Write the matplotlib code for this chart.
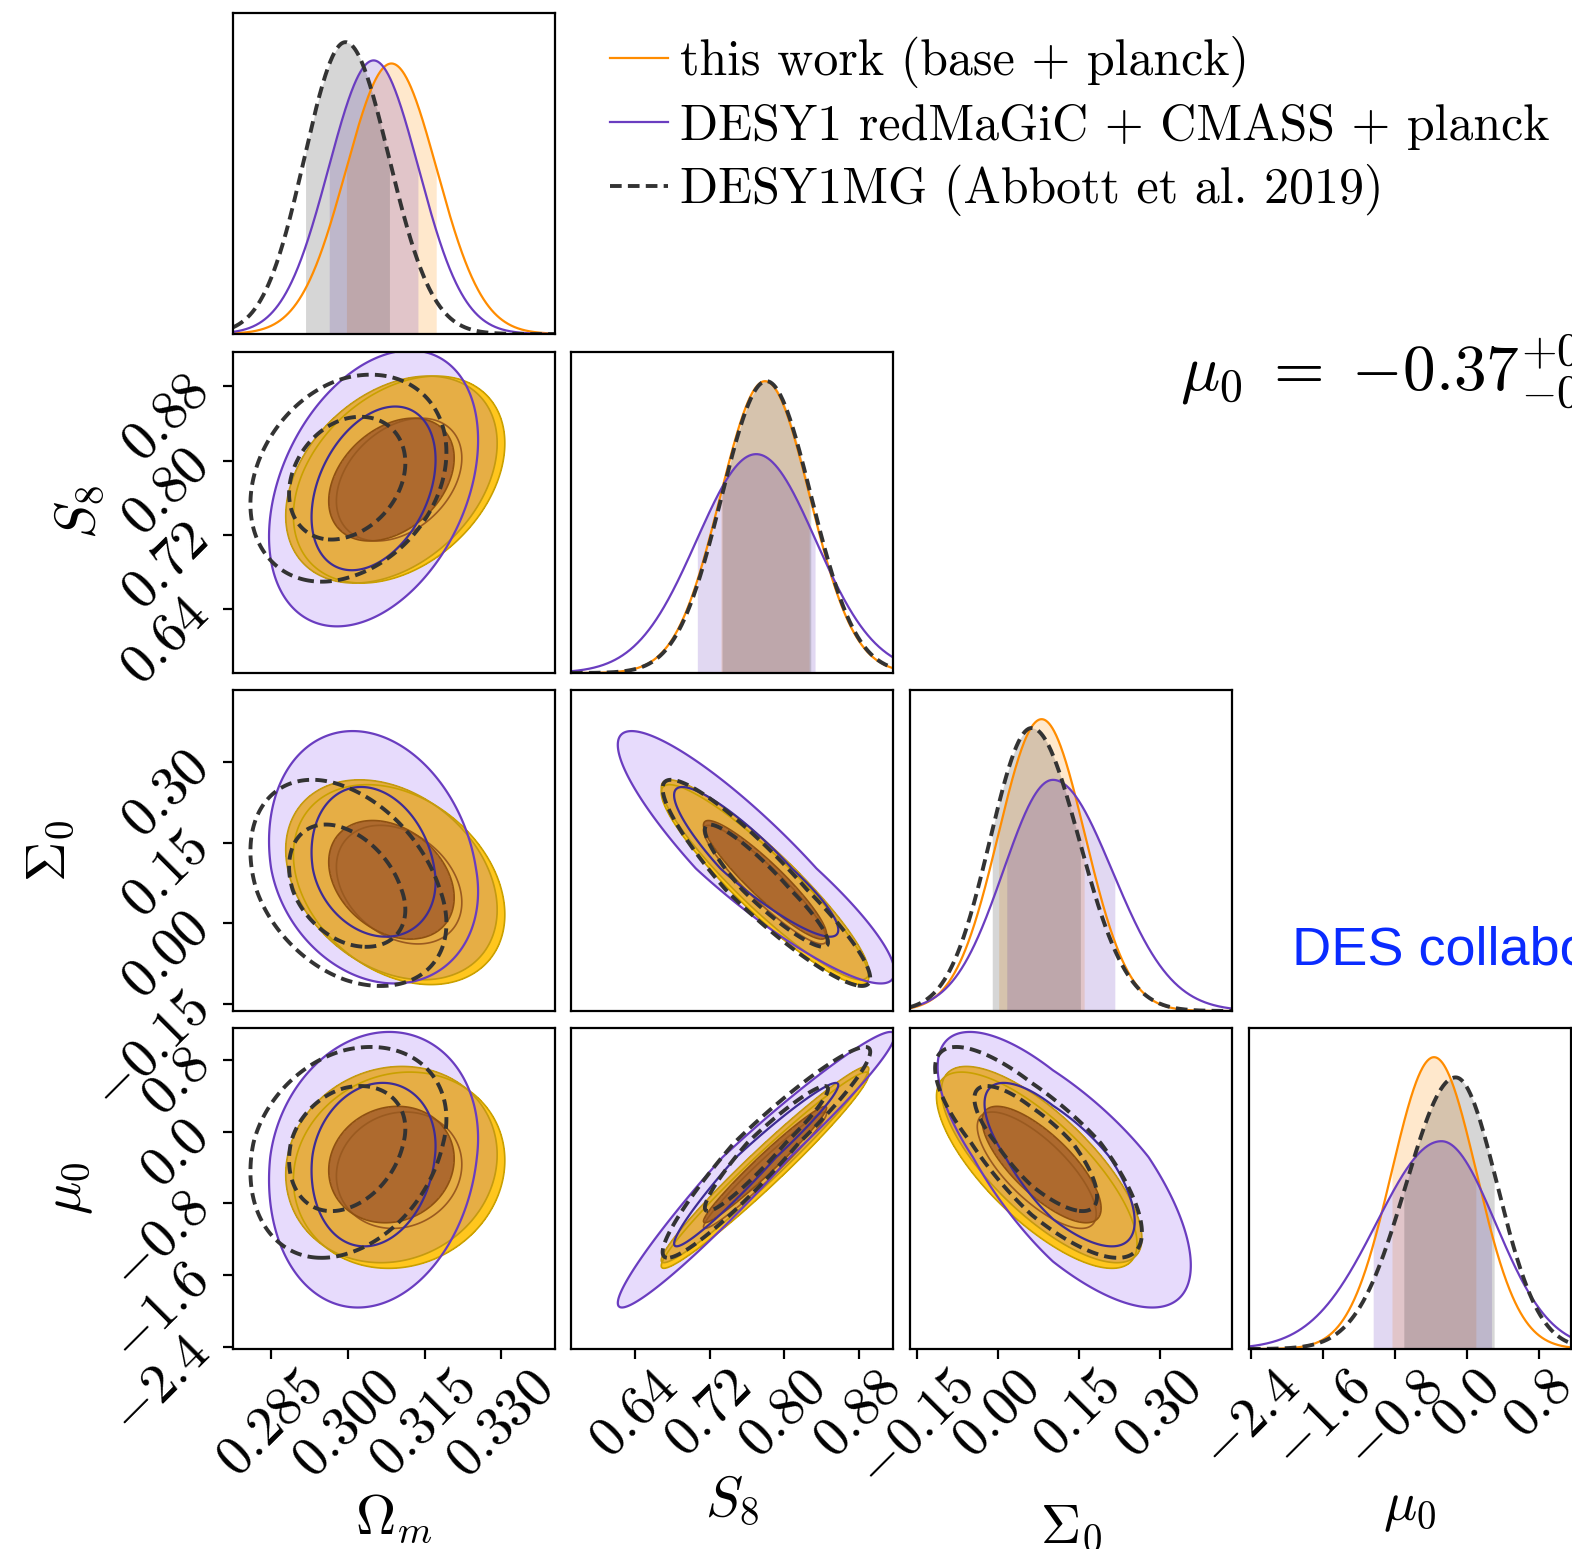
import numpy as np
import matplotlib
matplotlib.use("Agg")
import matplotlib.pyplot as plt
from matplotlib.lines import Line2D

plt.rcParams["font.family"] = "serif"
plt.rcParams["font.serif"] = ["cmr10"]
plt.rcParams["mathtext.fontset"] = "cm"
plt.rcParams["axes.formatter.use_mathtext"] = True

# parameters, axis ranges and ticks
labels = [r"$\Omega_m$", r"$S_8$", r"$\Sigma_0$", r"$\mu_0$"]
ranges = [(0.2775, 0.3405), (0.571, 0.917), (-0.163, 0.434), (-2.42, 1.153)]
ticks = [[0.285, 0.300, 0.315, 0.330],
         [0.64, 0.72, 0.80, 0.88],
         [-0.15, 0.00, 0.15, 0.30],
         [-2.4, -1.6, -0.8, 0.0, 0.8]]
tick_text = [["0.285", "0.300", "0.315", "0.330"],
             ["0.64", "0.72", "0.80", "0.88"],
             ["-0.15", "0.00", "0.15", "0.30"],
             ["-2.4", "-1.6", "-0.8", "0.0", "0.8"]]

# order of the correlation lists below
pairs = [(0, 1), (0, 2), (0, 3), (1, 2), (1, 3), (2, 3)]

# this work (base + planck): peak, lower / upper width
work_mode = [0.3085, 0.7795, 0.081, -0.367]
work_lo = [0.0089, 0.048, 0.080, 0.47]
work_hi = [0.0089, 0.048, 0.080, 0.47]
work_corr = [0.35, -0.30, 0.10, -0.92, 0.975, -0.75]

# second filled layer of this work (gold, not in legend)
gold_mode = [0.3100, 0.7795, 0.072, -0.43]
gold_lo = [0.0089, 0.048, 0.080, 0.47]
gold_hi = [0.0089, 0.048, 0.080, 0.47]
gold_corr = [0.35, -0.30, 0.10, -0.92, 0.975, -0.75]

# DESY1 redMaGiC + CMASS + planck
desc_mode = [0.3050, 0.7700, 0.102, -0.285]
desc_lo = [0.0088, 0.064, 0.092, 0.72]
desc_hi = [0.0088, 0.064, 0.110, 0.60]
desc_corr = [0.35, -0.20, 0.15, -0.90, 0.97, -0.72]

# DESY1MG (Abbott et al. 2019)
mg_mode = [0.2995, 0.781, 0.0625, -0.127]
mg_lo = [0.0080, 0.048, 0.077, 0.55]
mg_hi = [0.0085, 0.048, 0.088, 0.46]
mg_corr = [0.25, -0.35, 0.25, -0.92, 0.95, -0.78]

legend_text = ["this work (base + planck)",
               "DESY1 redMaGiC + CMASS + planck",
               "DESY1MG (Abbott et al. 2019)"]

ORANGE = "#ff8c00"
PURPLE = "#6a3dc0"
DARK = "#333333"
DASH = (0, (3, 1.6))
LEVELS = [1.9, 5.4]


def std(x, m, lo, hi):
    return np.where(x < m, (x - m) / lo, (x - m) / hi)


def pdf1d(x, m, lo, hi):
    z = std(x, m, lo, hi)
    return 2.0 / (np.sqrt(2 * np.pi) * (lo + hi)) * np.exp(-0.5 * z**2)


def chi2(X, Y, mode, lo, hi, corr, i, j):
    rho = corr[pairs.index((i, j))]
    u = std(X, mode[i], lo[i], hi[i])
    v = std(Y, mode[j], lo[j], hi[j])
    return (u**2 - 2 * rho * u * v + v**2) / (1 - rho**2)


def quantiles(m, lo, hi):
    x = np.linspace(m - 6 * lo, m + 6 * hi, 4000)
    c = np.cumsum(pdf1d(x, m, lo, hi))
    c /= c[-1]
    return np.interp(0.16, c, x), np.interp(0.84, c, x)


W, H = 1572, 1549
fig = plt.figure(figsize=(W / 100, H / 100), dpi=100)
col_x = [233, 571, 910, 1249]
row_y = [13, 352, 690, 1028]
size_w, size_h = 322, 321

curves = [(work_mode, work_lo, work_hi, ORANGE, "-", 1.6),
          (desc_mode, desc_lo, desc_hi, PURPLE, "-", 1.6),
          (mg_mode, mg_lo, mg_hi, DARK, DASH, 2.8)]

for r in range(4):
    for c in range(r + 1):
        ax = fig.add_axes([col_x[c] / W, 1 - (row_y[r] + size_h) / H,
                           size_w / W, size_h / H])
        for s in ax.spines.values():
            s.set_linewidth(1.6)
        ax.set_xlim(ranges[c])
        if r == c:
            x = np.linspace(*ranges[c], 600)
            top = 0
            for mode, lo, hi, col, ls, lw in curves:
                y = pdf1d(x, mode[c], lo[c], hi[c])
                a, b = quantiles(mode[c], lo[c], hi[c])
                ax.fill_between(x, 0, y, where=(x >= a) & (x <= b),
                                color=col, alpha=0.2, lw=0)
                ax.plot(x, y, color=col, ls=ls, lw=lw)
                top = max(top, y.max())
            ax.set_ylim(0, 1.1 * top)
            ax.set_yticks([])
        else:
            ax.set_ylim(ranges[r])
            gx = np.linspace(*ranges[c], 300)
            gy = np.linspace(*ranges[r], 300)
            X, Y = np.meshgrid(gx, gy)
            k = chi2(X, Y, desc_mode, desc_lo, desc_hi, desc_corr, c, r)
            ax.contourf(X, Y, k, levels=[0, LEVELS[1]], colors=["#e7dbfc"])
            k = chi2(X, Y, gold_mode, gold_lo, gold_hi, gold_corr, c, r)
            ax.contourf(X, Y, k, levels=[0] + LEVELS,
                        colors=["#c87646", "#ffc61e"])
            ax.contour(X, Y, k, levels=LEVELS, colors=["#9a5a20", "#c9a000"],
                       linewidths=1.2)
            k = chi2(X, Y, work_mode, work_lo, work_hi, work_corr, c, r)
            ax.contourf(X, Y, k, levels=[0] + LEVELS,
                        colors=["#ae6a2e", "#e6ae45"])
            ax.contour(X, Y, k, levels=LEVELS, colors=["#8e5012", "#c49a10"],
                       linewidths=1.2)
            k = chi2(X, Y, desc_mode, desc_lo, desc_hi, desc_corr, c, r)
            ax.contour(X, Y, k, levels=LEVELS, colors=["#3e2c96", PURPLE],
                       linewidths=1.6)
            k = chi2(X, Y, mg_mode, mg_lo, mg_hi, mg_corr, c, r)
            ax.contour(X, Y, k, levels=LEVELS, colors=DARK, linewidths=2.8,
                       linestyles=[DASH])
            if c == 0:
                ax.set_yticks(ticks[r])
                ax.set_yticklabels(["$%s$" % t for t in tick_text[r]],
                                   rotation=45)
                ax.set_ylabel(labels[r], fontsize=40, labelpad=6)
            else:
                ax.set_yticks([])
        if r == 3:
            ax.set_xticks(ticks[c])
            ax.set_xticklabels(["$%s$" % t for t in tick_text[c]],
                               rotation=45)
            ax.set_xlabel(labels[c], fontsize=40, labelpad=4)
        else:
            ax.set_xticks([])
        ax.tick_params(direction="out", length=7, width=1.6, labelsize=40,
                       pad=3)

handles = [Line2D([], [], color=ORANGE, lw=1.6),
           Line2D([], [], color=PURPLE, lw=1.6),
           Line2D([], [], color=DARK, lw=2.8, ls=DASH)]
fig.legend(handles, legend_text, loc="upper left",
           bbox_to_anchor=(610 / W, 1 - 36 / H), frameon=False, fontsize=36,
           handlelength=1.15, handletextpad=0.25, labelspacing=0.3,
           borderpad=0, borderaxespad=0)

fig.text(1180 / W, 1 - 392 / H, r"$\mu_0\;=\;{-0.37}^{+0.48}_{-0.46}$",
         fontsize=47, va="baseline")
fig.text(1292 / W, 1 - 965 / H, "DES collaboration", color="#0a2bff",
         fontsize=39, family="Liberation Sans", va="baseline")

fig.savefig("out.png", dpi=100)
